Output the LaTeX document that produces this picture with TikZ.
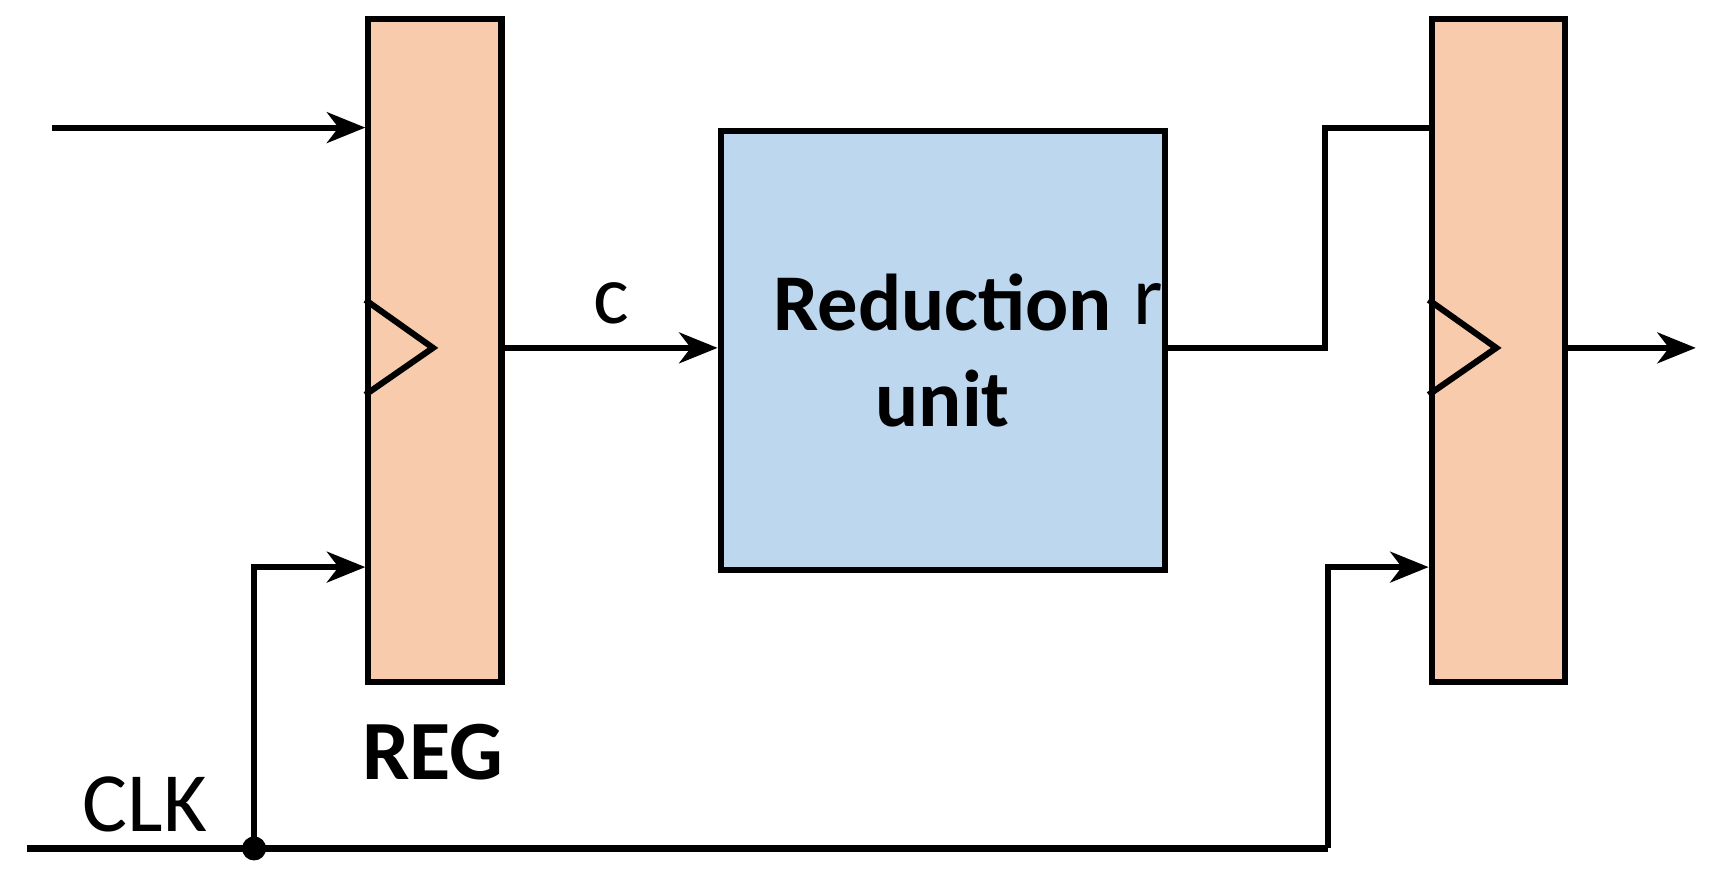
\documentclass[tikz,border=0pt]{standalone}
\usepackage{fontspec}
\setmainfont{Carlito}
\usetikzlibrary{positioning, arrows.meta, calc}
\definecolor{regfill}{HTML}{F8CBAD}
\definecolor{redfill}{HTML}{BDD7EE}
\tikzstyle{wire} = [line width=1.6pt]
\tikzstyle{arrow} = [wire, -{Stealth[length=10pt, width=8pt, inset=3pt]}]
\tikzstyle{register} = [rectangle, line width=1.6pt, draw=black, fill=regfill, minimum width=1.22cm, minimum height=6.07cm, inner sep=0pt]
\tikzstyle{unit} = [rectangle, line width=1.6pt, draw=black, fill=redfill, minimum width=4.07cm, minimum height=4.03cm, align=center, font=\bfseries\fontsize{21}{25}\selectfont]

\begin{document}
\begin{tikzpicture}[x=0.01cm, y=-0.01cm]
        \useasboundingbox (0,0) rectangle (1568,800);
        \node (reg1) [register, anchor=north west] at (335,15) {};
        \node (reg2) [register, anchor=north west] at (1310,15) {};
        \node (red) [unit, anchor=north west] at (658,117) {Reduction\\unit};
        \node (reglbl) [font=\bfseries\fontsize{22}{26}\selectfont] at (397,690) {REG};
        \node (clklbl) [font=\fontsize{22}{26}\selectfont] at (133,738) {CLK};

        % clock triangles
        \draw [wire] (335,275) -- (397,319) -- (335,362);
        \draw [wire] (1310,275) -- (1372,319) -- (1310,362);

        \coordinate (in) at (48,117);
        \coordinate (out) at (1555,319);
        \coordinate (clkin) at (25,778);
        \coordinate (tap) at (233,778);
        \coordinate (clkend) at (1218,778);

        \draw [arrow] (in) -- (in -| reg1.west);
        \draw [arrow] (reg1.east |- 0,319) -- node[above=2pt, font=\fontsize{22}{26}\selectfont]{c} (red.west |- 0,319);
        \draw [wire] (red.east |- 0,319) -- node[above=2pt, xshift=-0.9cm, font=\fontsize{22}{26}\selectfont]{r} (1215,319) -- (1215,117) -- (reg2.west |- 0,117);
        \draw [arrow] (reg2.east |- out) -- (out);
        \draw [wire] (clkin) -- (clkend);
        \draw [arrow] (tap) -- (233,520) -- (reg1.west |- 0,520);
        \draw [arrow] (clkend) -- (1218,520) -- (reg2.west |- 0,520);
        \fill (tap) circle (0.11cm);
\end{tikzpicture}
\end{document}
